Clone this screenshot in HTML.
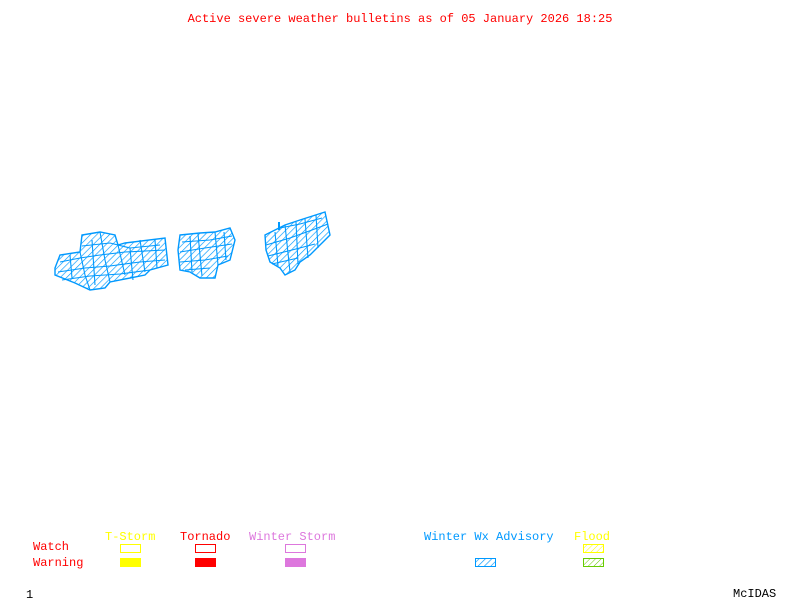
<!DOCTYPE html>
<html><head><meta charset="utf-8"><style>
html,body{margin:0;padding:0;background:#fff;}
svg{display:block;}
text{font-family:"Liberation Mono","DejaVu Sans Mono",monospace;font-size:12px;}
</style></head><body>
<svg width="800" height="600" viewBox="0 0 800 600" xmlns="http://www.w3.org/2000/svg">
<defs>
<pattern id="hb" patternUnits="userSpaceOnUse" width="4.5" height="4.5" patternTransform="rotate(45)">
<line x1="0" y1="0" x2="0" y2="4.5" stroke="#0099ff" stroke-width="1.3"/></pattern>
<pattern id="hy" patternUnits="userSpaceOnUse" width="4" height="4" patternTransform="rotate(45)">
<line x1="0" y1="0" x2="0" y2="4" stroke="#ffff00" stroke-width="1"/></pattern>
<pattern id="hg" patternUnits="userSpaceOnUse" width="4" height="4" patternTransform="rotate(45)">
<line x1="0" y1="0" x2="0" y2="4" stroke="#66cc00" stroke-width="1"/></pattern>
</defs>
<text x="400" y="22" fill="#ff0000" text-anchor="middle">Active severe weather bulletins as of 05 January 2026 18:25</text>

<g stroke="#0099ff" stroke-width="1.4" fill="url(#hb)">
<polygon points="55,268 60,255 80,252 82,235 100,232 115,235 118,245 125,243 165,238 168,265 150,270 145,275 110,282 105,288 90,290 75,283 55,275"/>
<polygon points="180,235 200,233 215,232 230,228 235,240 230,260 218,265 215,278 200,278 190,272 180,270 178,250"/>
<polygon points="265,235 285,225 300,220 325,212 330,235 310,255 300,262 295,270 285,275 280,268 270,262 266,250"/>
</g>
<g stroke="#0099ff" stroke-width="1.1" fill="none">
<polyline points="60,262 80,258 100,255 125,252 165,250"/>
<polyline points="58,272 85,268 110,266 140,262 165,260"/>
<polyline points="62,280 90,276 120,274 150,270"/>
<polyline points="82,246 110,243 130,248 160,245"/>
<polyline points="80,252 85,275 90,290"/>
<polyline points="100,232 105,260 110,282"/>
<polyline points="118,245 125,275"/>
<polyline points="140,240 145,272"/>
<polyline points="70,255 72,278"/>
<polyline points="92,240 95,285"/>
<polyline points="155,240 157,268"/>
<polyline points="130,248 133,280"/>
<polyline points="180,252 205,248 232,244"/>
<polyline points="180,262 205,260 228,256"/>
<polyline points="182,242 210,240 232,236"/>
<polyline points="185,270 210,268"/>
<polyline points="198,234 202,276"/>
<polyline points="215,232 218,265"/>
<polyline points="190,236 192,272"/>
<polyline points="224,232 226,260"/>
<polyline points="266,245 290,238 312,230 328,224"/>
<polyline points="268,256 292,250 315,244"/>
<polyline points="272,264 298,258"/>
<polyline points="280,228 300,224 322,218"/>
<polyline points="285,225 290,272"/>
<polyline points="305,219 308,258"/>
<polyline points="275,232 278,266"/>
<polyline points="296,222 298,264"/>
<polyline points="316,215 318,248"/>
</g>
<line x1="279" y1="222" x2="279" y2="230" stroke="#0099ff" stroke-width="2"/>

<text x="105" y="540" fill="#ffff00">T-Storm</text>
<text x="180" y="540" fill="#ff0000">Tornado</text>
<text x="249" y="540" fill="#dd77dd">Winter Storm</text>
<text x="424" y="540" fill="#0099ff">Winter Wx Advisory</text>
<text x="574" y="540" fill="#ffff00">Flood</text>
<text x="33" y="550" fill="#ff0000">Watch</text>
<text x="33" y="566" fill="#ff0000">Warning</text>

<rect x="120.5" y="544.5" width="20" height="8" fill="none" stroke="#ffff00"/>
<rect x="195.5" y="544.5" width="20" height="8" fill="none" stroke="#ff0000"/>
<rect x="285.5" y="544.5" width="20" height="8" fill="none" stroke="#dd77dd"/>
<rect x="583.5" y="544.5" width="20" height="8" fill="url(#hy)" stroke="#ffff00"/>
<rect x="120" y="558" width="21" height="9" fill="#ffff00"/>
<rect x="195" y="558" width="21" height="9" fill="#ff0000"/>
<rect x="285" y="558" width="21" height="9" fill="#dd77dd"/>
<rect x="475.5" y="558.5" width="20" height="8" fill="url(#hb)" stroke="#0099ff"/>
<rect x="583.5" y="558.5" width="20" height="8" fill="url(#hg)" stroke="#66cc00"/>

<text x="26" y="598" fill="#000">1</text>
<text x="733" y="597" fill="#000">McIDAS</text>
</svg>
</body></html>
